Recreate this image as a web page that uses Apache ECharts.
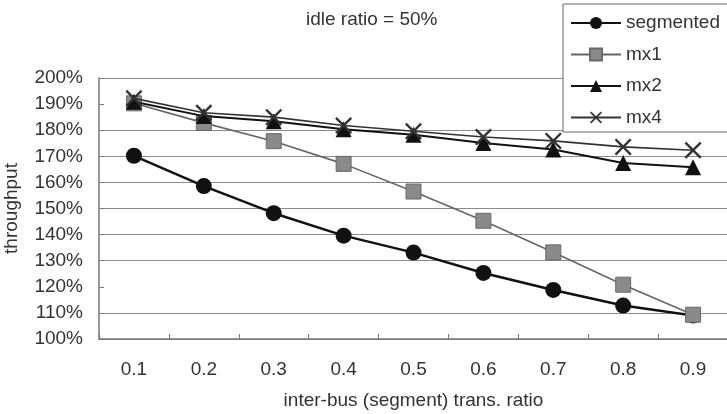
<!DOCTYPE html>
<html>
<head>
<meta charset="utf-8">
<script src="https://cdn.jsdelivr.net/npm/echarts@6/dist/echarts.min.js"></script>
<style>
  html, body { margin: 0; padding: 0; background: #fff; }
  #chart { width: 727px; height: 414px; }
</style>
</head>
<body>
<div id="chart"></div>
<script>
// Throughput vs. inter-bus transfer ratio at 50% idle ratio
const categories = ['0.1', '0.2', '0.3', '0.4', '0.5', '0.6', '0.7', '0.8', '0.9'];
const segmented = [170.2, 158.6, 148.2, 139.6, 133.1, 125.3, 118.8, 112.8, 109.0];
const mx1 = [190.3, 182.8, 175.8, 167.1, 156.5, 145.3, 133.2, 120.8, 109.3];
const mx2 = [190.9, 185.4, 183.4, 180.4, 178.3, 175.1, 172.6, 167.4, 165.8];
const mx4 = [192.2, 186.7, 185.0, 181.8, 179.6, 177.4, 175.9, 173.6, 172.3];
const yTicks = { min: 100, max: 200, step: 10 };

const FONT = 'Liberation Sans';
const FS = 19;
const TXT = '#333';
const crossPath = 'path://M0,1 L1,0 L5,4 L9,0 L10,1 L6,5 L10,9 L9,10 L5,6 L1,10 L0,9 L4,5 Z';

// every horizontal rule, except the two at 120% and 190% which are absent
const gridColors = [];
for (let v = yTicks.min; v <= yTicks.max; v += yTicks.step) {
  gridColors.push(v === 120 || v === 190 ? 'rgba(0,0,0,0)' : '#8a8a8a');
}

const chart = echarts.init(document.getElementById('chart'), null, { renderer: 'canvas' });
chart.setOption({
  animation: false,
  backgroundColor: '#fff',
  textStyle: { fontFamily: FONT },
  title: {
    text: 'idle ratio = 50%',
    left: 301,
    top: 5,
    textStyle: { fontFamily: FONT, fontSize: FS, fontWeight: 'normal', color: TXT }
  },
  legend: {
    orient: 'vertical',
    left: 563,
    top: 4,
    width: 170,
    padding: [9.5, 30, 5, 7],
    itemGap: 12.5,
    itemWidth: 50,
    itemHeight: 15,
    backgroundColor: '#fff',
    borderColor: '#666',
    borderWidth: 1,
    borderRadius: 0,
    textStyle: { fontFamily: FONT, fontSize: FS, color: TXT },
    data: ['segmented', 'mx1', 'mx2', 'mx4']
  },
  grid: {
    left: 99, top: 78, width: 629, height: 261,
    containLabel: false,
    outerBoundsMode: 'none'
  },
  xAxis: {
    type: 'category',
    data: categories,
    boundaryGap: true,
    name: 'inter-bus (segment) trans. ratio',
    nameLocation: 'middle',
    nameGap: 52,
    nameTextStyle: { fontFamily: FONT, fontSize: FS, color: TXT },
    axisLine: { lineStyle: { color: '#777', width: 1.5 } },
    axisTick: { show: true, inside: true, length: 5, lineStyle: { color: '#777' } },
    axisLabel: { fontFamily: FONT, fontSize: FS, color: TXT, margin: 21 },
    splitLine: { show: false }
  },
  yAxis: {
    type: 'value',
    min: yTicks.min,
    max: yTicks.max,
    interval: yTicks.step,
    name: 'throughput',
    nameLocation: 'middle',
    nameGap: 78,
    nameTextStyle: { fontFamily: FONT, fontSize: FS, color: TXT },
    axisLine: { show: true, lineStyle: { color: '#777', width: 1.5 } },
    axisTick: { show: true, inside: true, length: 5, lineStyle: { color: '#777' } },
    axisLabel: { fontFamily: FONT, fontSize: FS, color: TXT, margin: 16, formatter: '{value}%' },
    splitLine: { show: true, lineStyle: { color: gridColors, width: 1.2 } }
  },
  series: [
    {
      name: 'segmented', type: 'line', data: segmented,
      symbol: 'circle', symbolSize: 16,
      lineStyle: { color: '#111', width: 2.5 },
      itemStyle: { color: '#111' },
      z: 2
    },
    {
      name: 'mx1', type: 'line', data: mx1,
      symbol: 'rect', symbolSize: 15,
      lineStyle: { color: '#666', width: 1.6 },
      itemStyle: { color: '#8a8a8a', borderColor: '#6a6a6a', borderWidth: 1 },
      z: 3
    },
    {
      name: 'mx2', type: 'line', data: mx2,
      symbol: 'triangle', symbolSize: 16,
      lineStyle: { color: '#111', width: 2 },
      itemStyle: { color: '#111' },
      z: 4
    },
    {
      name: 'mx4', type: 'line', data: mx4,
      symbol: crossPath, symbolSize: 17,
      lineStyle: { color: '#333', width: 1.6 },
      itemStyle: { color: '#333' },
      z: 5
    }
  ]
});
</script>
</body>
</html>
